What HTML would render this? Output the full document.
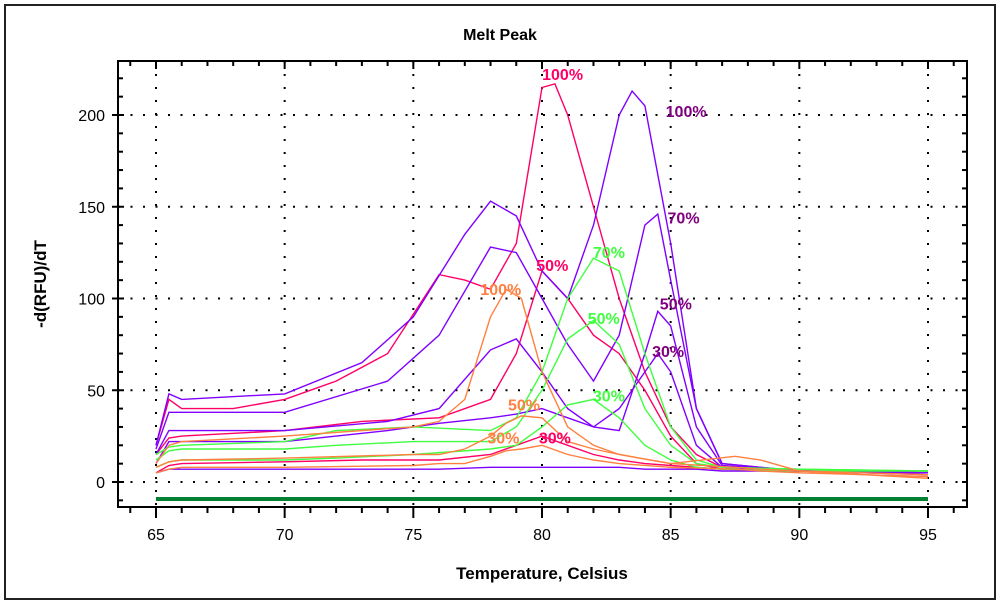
<!DOCTYPE html>
<html><head><meta charset="utf-8">
<style>
body{margin:0;background:#fff;}
svg{display:block;font-family:"Liberation Sans",sans-serif;}
</style></head>
<body>
<svg id="chart" width="1000" height="604">
<rect x="5" y="5" width="990" height="594" fill="#fff" stroke="#222" stroke-width="2"/>
<text x="500" y="40" text-anchor="middle" font-weight="bold" font-size="16">Melt Peak</text>
<text x="542" y="579" text-anchor="middle" font-weight="bold" font-size="17">Temperature, Celsius</text>
<text transform="translate(46,284) rotate(-90)" text-anchor="middle" font-weight="bold" font-size="17">-d(RFU)/dT</text>
<g id="grid"></g><g id="axes"></g><g id="series"></g><g id="labels"></g>
</svg>
<script>
const xTicks=[65,70,75,80,85,90,95];
const yTicks=[0,50,100,150,200];
const seriesNames=["pink-100","pink-50","pink-30","purple-100","purple-70","purple-50","purple-30","purple-low","green-70","green-50","green-30","orange-100","orange-50","orange-30"];
const seriesColors=["#ff0066","#ff0066","#ff0066","#8000ff","#8000ff","#8000ff","#8000ff","#8000ff","#40ff40","#40ff40","#40ff40","#ff8040","#ff8040","#ff8040"];
const temps0=[65,65.5,66,68,70,72,74,76,77,78,79,80,80.5,81,82,83,84,85,86,87,90,95];
const pink100=[20,45,40,40,45,55,70,113,110,105,130,215,217,200,150,100,60,30,15,8,6,5];
const temps1=[65,65.5,66,70,73,76,78,79,80,81,82,83,84,85,86,87,90,95];
const pink50=[15,24,25,28,33,35,45,70,115,100,80,70,50,25,10,7,6,5];
const pink30=[5,9,10,11,12,12,15,20,25,20,15,12,10,9,8,7,6,5];
const temps2=[65,65.5,66,70,73,75,77,78,79,80,81,82,83,83.5,84,85,86,87,90,95];
const purple100=[20,48,45,48,65,90,135,153,145,115,100,140,200,213,205,130,40,10,6,6];
const temps3=[65,65.5,66,70,74,76,78,79,80,81,82,83,84,84.5,85,86,87,90,95];
const purple70=[18,38,38,38,55,80,128,125,100,75,55,80,140,146,110,40,10,6,5];
const purple50=[15,28,28,28,33,40,72,78,60,40,30,28,70,93,85,30,9,6,5];
const purple30=[10,22,22,22,28,32,35,37,40,35,30,40,60,70,60,20,8,6,5];
const purpleLow=[5,7,7,7,7,7,8,8,8,8,8,8,7,7,7,7,6,6,4];
const temps4=[65,65.5,66,70,72,75,78,79,80,81,82,83,84,85,86,87,90,95];
const green70=[15,19,20,22,28,30,28,35,60,100,122,115,70,30,12,8,7,6];
const green50=[12,17,18,18,20,22,22,30,50,78,88,75,40,20,10,8,7,6];
const green30=[8,11,12,12,13,15,18,20,30,42,45,35,20,12,8,7,6,6];
const temps5=[65,65.5,66,70,75,76,77,78,78.6,79.2,80,81,82,83,85,87.5,88.5,90,95];
const orange100=[10,20,22,25,30,33,45,90,105,100,60,30,20,15,10,14,12,6,2];
const orange50=[8,11,12,13,15,15,18,25,32,36,35,22,18,15,10,8,7,6,4];
const orange30=[5,7,8,8,9,10,10,14,17,18,20,15,12,10,8,7,6,5,3];
const seriesTemps=[temps0,temps1,temps1,temps2,temps3,temps3,temps3,temps3,temps4,temps4,temps4,temps5,temps5,temps5];
const seriesValues=[pink100,pink50,pink30,purple100,purple70,purple50,purple30,purpleLow,green70,green50,green30,orange100,orange50,orange30];
const labelTexts=["100%","50%","30%","100%","70%","50%","30%","70%","50%","30%","100%","50%","30%"];
const labelX=[80.8,80.4,80.5,85.6,85.5,85.2,84.9,82.6,82.4,82.6,78.4,79.3,78.5];
const labelY=[219,115,21,199,141,94,68,122,86,44,102,39,21];
const labelColors=["#ff0066","#ff0066","#ff0066","#800080","#800080","#800080","#800080","#40ff40","#40ff40","#40ff40","#ff8040","#ff8040","#ff8040"];

const L=118,R=967,T=61,B=507;
const xs=t=>156+(t-65)*(772/30);
const ys=v=>482-v*(367/200);
const NS="http://www.w3.org/2000/svg";
function mk(tag,attrs,parent){const e=document.createElementNS(NS,tag);for(const k in attrs)e.setAttribute(k,attrs[k]);parent.appendChild(e);return e;}
const grid=document.getElementById('grid'),axes=document.getElementById('axes'),ser=document.getElementById('series'),lab=document.getElementById('labels');
xTicks.forEach(t=>{const g=mk('line',{x1:xs(t),x2:xs(t),y1:T,y2:B,stroke:'#000','stroke-width':2,'stroke-dasharray':'2 11'},grid);

});
yTicks.forEach(v=>{const g=mk('line',{x1:L,x2:R,y1:ys(v),y2:ys(v),stroke:'#000','stroke-width':2,'stroke-dasharray':'2 10.5'},grid);

});
const box=mk('rect',{x:L,y:T,width:R-L,height:B-T,fill:'none',stroke:'#000','stroke-width':2},axes);


for(let t=64;t<=96;t++){const x=xs(t);if(x<L||x>R)continue;const major=t%5===0;
mk('line',{x1:x,x2:x,y1:B,y2:B+(major?11:6),stroke:'#000','stroke-width':2},axes);
mk('line',{x1:x,x2:x,y1:T,y2:T+(major?8:5),stroke:'#000','stroke-width':2},axes);}
for(let v=-10;v<=220;v+=10){const y=ys(v);if(y<T||y>B)continue;const major=v%50===0;
mk('line',{x1:major?L-6:L,x2:L+(major?6:5),y1:y,y2:y,stroke:'#000','stroke-width':2},axes);
mk('line',{x1:R-5,x2:R,y1:y,y2:y,stroke:'#000','stroke-width':2},axes);}
xTicks.forEach(t=>{const e=mk('text',{x:xs(t),y:540,'text-anchor':'middle','font-size':16},axes);e.textContent=t;

});
yTicks.forEach(v=>{const e=mk('text',{x:L-13,y:ys(v)+6,'text-anchor':'end','font-size':16},axes);e.textContent=v;

});
const base=mk('line',{x1:xs(65),x2:xs(95),y1:499,y2:499,stroke:'#008030','stroke-width':4},ser);


seriesValues.forEach((vals,i)=>{const pts=vals.map((v,j)=>xs(seriesTemps[i][j]).toFixed(1)+','+ys(v).toFixed(1)).join(' ');
const p=mk('polyline',{points:pts,fill:'none',stroke:seriesColors[i],'stroke-width':1.4},ser);

});
labelTexts.forEach((s,i)=>{const e=mk('text',{x:xs(labelX[i]),y:ys(labelY[i]),'text-anchor':'middle','font-size':16,'font-weight':'bold',fill:labelColors[i]},lab);e.textContent=s;

});
</script>
</body></html>
